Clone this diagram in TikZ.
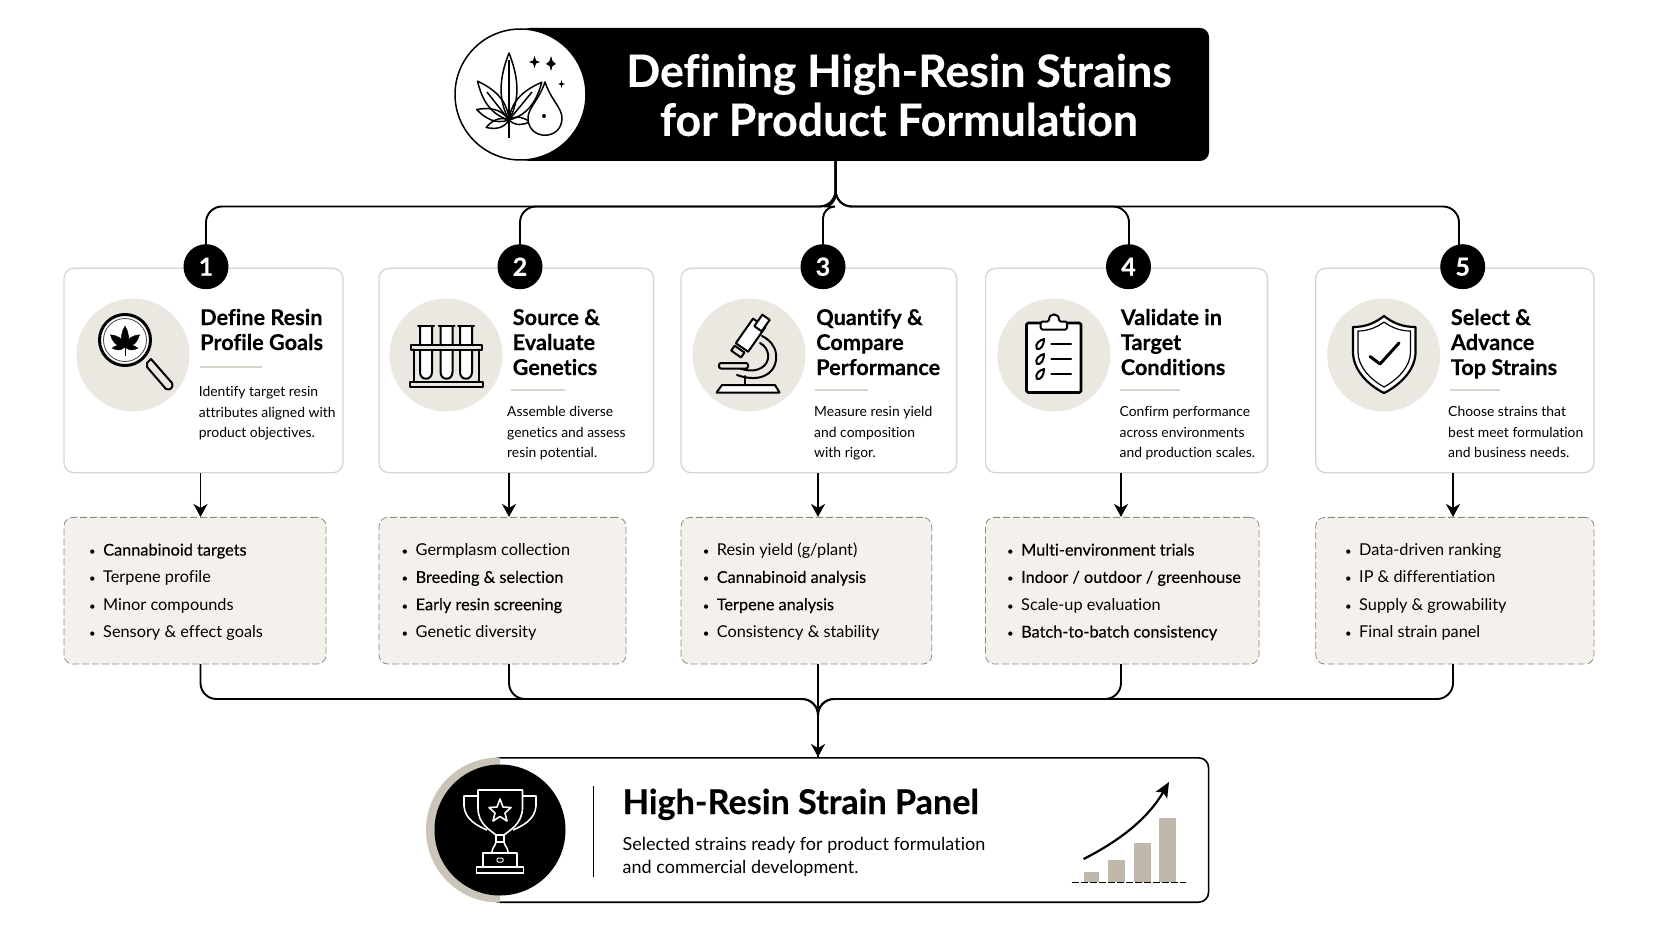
\documentclass[tikz,border=0pt]{standalone}
\usepackage{fontspec}
\usepackage{xcolor}
\usepackage{graphicx}
\usetikzlibrary{arrows.meta}
\setmainfont[Ligatures=NoCommon,BoldFeatures={FakeBold=0.3}]{Lato}
\newfontfamily\medfont[FakeBold=0.25,Ligatures=NoCommon]{Lato}

\definecolor{sand}{HTML}{EBE7E1}
\definecolor{listfill}{HTML}{F4F1EC}
\definecolor{cardline}{HTML}{D9D5CD}
\definecolor{dashline}{HTML}{8F8A80}
\definecolor{rim}{HTML}{CAC4B9}
\definecolor{barfill}{HTML}{BFB8AB}

\tikzset{
  link/.style={black, line width=1.9pt, rounded corners=16pt},
  arrowlink/.style={black, line width=1.9pt, -{Stealth[length=13pt,width=14pt,inset=4pt]}},
  card/.style={draw=cardline, fill=white, line width=1.3pt, rounded corners=10pt, inner sep=0pt},
  listbox/.style={draw=dashline, fill=listfill, line width=0.8pt, dash pattern=on 7pt off 3pt, rounded corners=9pt, inner sep=0pt},
  badge/.style={circle, fill=black, text=white, minimum size=45pt, inner sep=0pt, font=\fontsize{25}{25}\selectfont\bfseries},
  iconback/.style={circle, fill=sand, minimum size=113pt, inner sep=0pt},
  heading/.style={anchor=base west, align=left, inner sep=0pt, font=\fontsize{21.7}{25}\selectfont\bfseries},
  rulebar/.style={cardline, line width=1.2pt},
  bodytext/.style={anchor=base west, align=left, inner sep=0pt, font=\fontsize{13.9}{20.4}\selectfont},
  itemtext/.style={anchor=base west, align=left, inner sep=0pt, font=\fontsize{16.3}{27.3}\selectfont},
  iconline/.style={black, line width=2pt, line join=round, line cap=round},
  whiteline/.style={white, line width=1.6pt, line join=round},
}

% one leaf blade: x, y, angle, length, width
\newcommand{\blade}[5]{%
  \draw[shift={(#1,#2)},rotate=#3] (0,0) .. controls (#5,{-0.35*#4}) and ({0.6*#5},{-0.7*#4}) .. (0,-#4)
    .. controls ({-0.6*#5},{-0.7*#4}) and (-#5,{-0.35*#4}) .. cycle;}
% marks the start of a list line
\newcommand{\itm}{\makebox[14pt][l]{\scalebox{0.7}{\textbullet}}}

\begin{document}
\begin{tikzpicture}[x=1pt,y=-1pt]
    \useasboundingbox (0,0) rectangle (1672,941);

    % points where the connectors turn
    \coordinate (hubtop) at (835.6,160);
    \coordinate (hubbus) at (835.6,206.5);
    \coordinate (out1) at (200.5,664);
    \coordinate (out2) at (509,664);
    \coordinate (out3) at (818,664);
    \coordinate (out4) at (1121,664);
    \coordinate (out5) at (1453,664);
    \coordinate (mergebus) at (818,699);
    \coordinate (panelin) at (818,757);

    % title bar
    \node[fill=black, rounded corners=9pt, minimum width=689pt, minimum height=133pt, inner sep=0pt] (titlebar) at (864.5,94.5) {};
    \node[circle, draw=black, fill=white, line width=1.5pt, minimum size=131pt, inner sep=0pt] (titlecircle) at (520.5,94.5) {};
    \node[align=center, text=white, inner sep=0pt, font=\fontsize{44.7}{49}\selectfont\bfseries] (titletext) at (899,95) {Defining High-Resin Strains\\for Product Formulation};

    % leaf and drop in the title circle
    \begin{scope}[black, line width=1.5pt, fill=white, line join=round]
        \blade{509}{120}{72}{34}{9}
        \blade{509}{120}{-95}{21}{6}
        \blade{509}{120}{108}{24}{7}
        \blade{509}{120}{39}{50}{12}
        \blade{509}{120}{-41}{50}{12}
        \blade{509}{120}{0}{67}{13}
        \draw (509,60) -- (509,138);
        \draw (509,120) -- (487,92);
        \draw (509,120) -- (532,92);
        \draw[fill=white] (545,82) .. controls (551,100) and (562,108) .. (562,118)
            .. controls (562,141) and (528,141) .. (528,118) .. controls (528,108) and (539,100) .. (545,82) -- cycle;
        \fill[black] (544,116) circle (2);
    \end{scope}
    \fill[black] (534.5,56) -- (536,60.5) -- (540,62) -- (536,63.5) -- (534.5,68) -- (533,63.5) -- (529,62) -- (533,60.5) -- cycle;
    \fill[black] (551,56) -- (552.5,61) -- (556,64) -- (552.5,66) -- (551,71) -- (549.5,66) -- (546,64) -- (549.5,61) -- cycle;
    \fill[black] (561.5,80) -- (562.3,83) -- (565,84) -- (562.3,85) -- (561.5,88) -- (560.7,85) -- (558,84) -- (560.7,83) -- cycle;

    % connectors from the title
    \draw[link] (hubtop) -- (hubbus) -| (206,266);
    \draw[link] (hubtop) -- (hubbus) -| (520,266);
    \draw[link,rounded corners=12pt] (hubtop) -- (hubbus) -| (823,266);
    \draw[link] (hubtop) -- (hubbus) -| (1129,266);
    \draw[link] (hubtop) -- (hubbus) -| (1459,266);

    % cards
    \node[card, minimum width=279pt, minimum height=204.4pt] (card1) at (203.5,370.5) {};
    \node[card, minimum width=274.6pt, minimum height=204.4pt] (card2) at (516.3,370.5) {};
    \node[card, minimum width=275.6pt, minimum height=204.4pt] (card3) at (818.8,370.5) {};
    \node[card, minimum width=282.2pt, minimum height=204.4pt] (card4) at (1126.5,370.5) {};
    \node[card, minimum width=278.3pt, minimum height=204.4pt] (card5) at (1454.9,370.5) {};

    % numbers
    \node[badge] (badge1) at (206,266.7) {1};
    \node[badge] (badge2) at (520,266.7) {2};
    \node[badge] (badge3) at (823,266.7) {3};
    \node[badge] (badge4) at (1128.5,266.7) {4};
    \node[badge] (badge5) at (1462.7,266.7) {5};

    % icon discs
    \node[iconback] (disc1) at (133,355) {};
    \node[iconback] (disc2) at (446,355) {};
    \node[iconback] (disc3) at (749,355) {};
    \node[iconback] (disc4) at (1053.8,355) {};
    \node[iconback] (disc5) at (1383.7,355) {};

    % magnifier
    \draw[iconline, fill=sand, line width=2pt] (147,363) -- (151,359) -- (172,383) .. controls (174,387) and (170,391) .. (166,389) -- (147,367) -- cycle;
    \draw[black, fill=white, line width=3pt] (125,340) circle (25.5);
    \draw[black!75, line width=0.8pt] (125,340) circle (21.5);
    \begin{scope}[black, fill=black, line width=0.4pt]
        \filldraw (125,346) -- (125,356);
        \filldraw[shift={(125,347)}] (0,0) .. controls (6,-7) and (3.6,-15) .. (0,-21) .. controls (-3.6,-15) and (-6,-7) .. cycle;
        \filldraw[shift={(125,347)},rotate=50] (0,0) .. controls (6,-7) and (3.6,-14) .. (0,-19) .. controls (-3.6,-14) and (-6,-7) .. cycle;
        \filldraw[shift={(125,347)},rotate=-50] (0,0) .. controls (6,-7) and (3.6,-14) .. (0,-19) .. controls (-3.6,-14) and (-6,-7) .. cycle;
        \filldraw[shift={(125,347)},rotate=95] (0,0) .. controls (4,-5) and (2.4,-9) .. (0,-13) .. controls (-2.4,-9) and (-4,-5) .. cycle;
        \filldraw[shift={(125,347)},rotate=-95] (0,0) .. controls (4,-5) and (2.4,-9) .. (0,-13) .. controls (-2.4,-9) and (-4,-5) .. cycle;
    \end{scope}

    % test tubes
    \begin{scope}[iconline]
        \draw[fill=white] (420,327) -- (420,372) .. controls (420,381) and (432,381) .. (432,372) -- (432,327);
        \draw[fill=white] (440.5,327) -- (440.5,372) .. controls (440.5,381) and (452.5,381) .. (452.5,372) -- (452.5,327);
        \draw[fill=white] (460,327) -- (460,372) .. controls (460,381) and (472,381) .. (472,372) -- (472,327);
        \draw (418,325.5) -- (434,325.5);
        \draw (438.5,325.5) -- (454.5,325.5);
        \draw (458,325.5) -- (474,325.5);
        \draw[fill=sand] (410.5,344.5) rectangle (481.5,349.5);
        \draw (413.5,349.5) -- (413.5,382);
        \draw (478.5,349.5) -- (478.5,382);
        \draw[fill=sand] (410,382) rectangle (483,387);
    \end{scope}

    % microscope
    \begin{scope}[iconline]
        \draw[fill=white] (716.6,392.5) -- (722,385) -- (775,385) -- (779.5,392.5) -- cycle;
        \draw (745,385) -- (745,376);
        \draw (737,375) .. controls (762,384) and (778,372) .. (776,354) .. controls (775,346) and (770,340) .. (762,336);
        \draw (739,368) .. controls (757,375) and (770,366) .. (768,354) .. controls (767,349) and (765,346) .. (760,343);
        \draw[fill=sand, rounded corners=2pt] (719,363) rectangle (748,368.5);
        \draw[fill=white, rotate around={-35:(750,336)}] (742.5,320) rectangle (757.5,350);
        \draw[fill=white, rotate around={-35:(762,323)}] (757.5,316) rectangle (766.5,330);
        \draw[fill=sand, rotate around={-35:(737,351)}] (732,348) rectangle (744,354);
    \end{scope}

    % clipboard
    \begin{scope}[iconline]
        \draw[line width=2.6pt, fill=white, rounded corners=1.5pt] (1026.5,323) rectangle (1081,392.5);
        \draw[fill=white, rounded corners=1.5pt] (1040.7,321.5) -- (1049,321.5) .. controls (1049,312.5) and (1059,312.5) .. (1059,321.5) -- (1067,321.5) -- (1067,329.5) -- (1040.7,329.5) -- cycle;
        \draw (1044,339) .. controls (1040,340) and (1034,344) .. (1037,349) .. controls (1041,350) and (1044,345) .. (1044,339) -- cycle;
        \draw (1044,354) .. controls (1040,355) and (1034,359) .. (1037,364) .. controls (1041,365) and (1044,360) .. (1044,354) -- cycle;
        \draw (1044,369) .. controls (1040,370) and (1034,374) .. (1037,379) .. controls (1041,380) and (1044,375) .. (1044,369) -- cycle;
        \draw (1051.4,344) -- (1071,344);
        \draw (1051.4,359) -- (1071,359);
        \draw (1051.4,374) -- (1071,374);
    \end{scope}

    % shield
    \begin{scope}[iconline]
        \draw[line width=2.2pt, fill=white] (1384,316) .. controls (1374,324) and (1364,327) .. (1353,327)
            -- (1353,352) .. controls (1353,370) and (1368,385) .. (1384,393)
            .. controls (1400,385) and (1415.5,370) .. (1415.5,352) -- (1415.5,327)
            .. controls (1404,327) and (1394,324) .. (1384,316) -- cycle;
        \draw[line width=1.2pt] (1384,322) .. controls (1376,328) and (1367,331) .. (1358,331)
            -- (1358,352) .. controls (1358,367) and (1371,380) .. (1384,387)
            .. controls (1397,380) and (1410.5,367) .. (1410.5,352) -- (1410.5,331)
            .. controls (1401,331) and (1392,328) .. (1384,322) -- cycle;
        \draw[line width=3pt] (1370,356.5) -- (1380,364) -- (1399,343);
    \end{scope}

    % card headings
    \node[heading] (head1) at (200,350) {Define Resin\\Profile Goals};
    \node[heading] (head2) at (512.5,375) {Source \&\\Evaluate\\Genetics};
    \node[heading] (head3) at (816,375) {Quantify \&\\Compare\\Performance};
    \node[heading] (head4) at (1120.6,375) {Validate in\\Target\\Conditions};
    \node[heading] (head5) at (1450.7,375) {Select \&\\Advance\\Top Strains};

    \draw[rulebar] (200,367) -- (262,367);
    \draw[rulebar] (511,390) -- (565,390);
    \draw[rulebar] (815,390) -- (868,390);
    \draw[rulebar] (1120,390) -- (1180,390);
    \draw[rulebar] (1450,390) -- (1500,390);

    % card texts
    \node[bodytext] (body1) at (198.6,437.5) {Identify target resin\\attributes aligned with\\product objectives.};
    \node[bodytext] (body2) at (507,457.5) {Assemble diverse\\genetics and assess\\resin potential.};
    \node[bodytext] (body3) at (814,457.5) {Measure resin yield\\and composition\\with rigor.};
    \node[bodytext] (body4) at (1119.4,457.5) {Confirm performance\\across environments\\and production scales.};
    \node[bodytext] (body5) at (1448,457.5) {Choose strains that\\best meet formulation\\and business needs.};

    % lists
    \node[listbox, minimum width=262pt, minimum height=146.7pt] (list1) at (195,590.7) {};
    \node[listbox, minimum width=247pt, minimum height=146.7pt] (list2) at (502.5,590.7) {};
    \node[listbox, minimum width=250.7pt, minimum height=146.7pt] (list3) at (806.4,590.7) {};
    \node[listbox, minimum width=273.6pt, minimum height=146.7pt] (list4) at (1122.2,590.7) {};
    \node[listbox, minimum width=278.3pt, minimum height=146.7pt] (list5) at (1454.9,590.7) {};

    \node[itemtext] (items1) at (89,637.5) {\itm{\medfont Cannabinoid targets}\\\itm Terpene profile\\\itm Minor compounds\\\itm Sensory \& effect goals};
    \node[itemtext] (items2) at (401.5,637.5) {\itm Germplasm collection\\\itm{\medfont Breeding \& selection}\\\itm{\medfont Early resin screening}\\\itm Genetic diversity};
    \node[itemtext] (items3) at (702.6,637.5) {\itm Resin yield (g/plant)\\\itm{\medfont Cannabinoid analysis}\\\itm{\medfont Terpene analysis}\\\itm Consistency \& stability};
    \node[itemtext] (items4) at (1007,637.5) {\itm{\medfont Multi-environment trials}\\\itm{\medfont Indoor / outdoor / greenhouse}\\\itm Scale-up evaluation\\\itm{\medfont Batch-to-batch consistency}};
    \node[itemtext] (items5) at (1345,637.5) {\itm Data-driven ranking\\\itm IP \& differentiation\\\itm Supply \& growability\\\itm Final strain panel};

    % arrows card to list
    \draw[arrowlink] (card1.south -| out1) -- (list1.north -| out1);
    \draw[arrowlink] (card2.south -| out2) -- (list2.north -| out2);
    \draw[arrowlink] (card3.south -| out3) -- (list3.north -| out3);
    \draw[arrowlink] (card4.south -| out4) -- (list4.north -| out4);
    \draw[arrowlink] (card5.south -| out5) -- (list5.north -| out5);

    % result panel
    \node[draw=black, fill=white, line width=1.6pt, rounded corners=10pt, minimum width=718.6pt, minimum height=144.4pt, inner sep=0pt] (panel) at (849.3,830) {};

    % connectors into the panel
    \draw[link] (out1) |- (mergebus) -- (panelin);
    \draw[link] (out2) |- (mergebus) -- (panelin);
    \draw[link] (out4) |- (mergebus) -- (panelin);
    \draw[link] (out5) |- (mergebus) -- (panelin);
    \draw[arrowlink] (out3) -- (panelin);

    % trophy disc
    \begin{scope}
        \clip (400,750) rectangle (500,910);
        \node[circle, fill=rim, minimum size=145pt, inner sep=0pt] (rimdisc) at (498.5,830) {};
    \end{scope}
    \node[circle, fill=black, minimum size=131pt, inner sep=0pt] (trophydisc) at (500,830) {};
    \begin{scope}[whiteline]
        \draw (478,790) -- (522.5,790) -- (522.5,808) .. controls (522,824) and (510,830) .. (504,835) -- (496,835) .. controls (490,830) and (478,824) .. (478,808) -- cycle;
        \draw (478,796) -- (464,796) -- (464,806) .. controls (465,820) and (478,826) .. (487,830);
        \draw (522.5,796) -- (536,796) -- (536,806) .. controls (535,820) and (522,826) .. (513,830);
        \draw (500,799) -- (503,807) -- (511,807.5) -- (505,813) -- (507,821) -- (500,816.5) -- (493,821) -- (495,813) -- (489,807.5) -- (497,807) -- cycle;
        \draw (496,835) -- (496,842) -- (504,842) -- (504,835);
        \draw (492,853) .. controls (492,847) and (495,847) .. (496,842);
        \draw (508,853) .. controls (508,847) and (505,847) .. (504,842);
        \draw (483,853) rectangle (517,867);
        \draw (476.5,867) rectangle (523.5,873);
        \draw[line width=1pt, rounded corners=1pt] (497,858) rectangle (503,862);
    \end{scope}

    % panel texts
    \draw[black, line width=1pt] (593,786) -- (593,877);
    \node[anchor=base west, inner sep=0pt, font=\fontsize{34.2}{34.2}\selectfont\bfseries] (paneltitle) at (622.5,814) {High-Resin Strain Panel};
    \node[anchor=base west, align=left, inner sep=0pt, font=\fontsize{18}{23}\selectfont] (paneltext) at (622.5,873) {Selected strains ready for product formulation\\and commercial development.};

    % small chart
    \fill[barfill] (1083.6,871.7) rectangle (1099,882);
    \fill[barfill] (1108,860) rectangle (1125,882);
    \fill[barfill] (1134,843) rectangle (1150.6,882);
    \fill[barfill] (1159,818) rectangle (1176,882);
    \draw[black, line width=1.3pt, dash pattern=on 7pt off 2pt] (1071.6,882.7) -- (1185.6,882.7);
    \draw[black, line width=2.2pt, -{Stealth[length=15pt,width=13pt,inset=3pt]}] (1083.6,859) .. controls (1125,838) and (1150,815) .. (1169,782);

\end{tikzpicture}
\end{document}
